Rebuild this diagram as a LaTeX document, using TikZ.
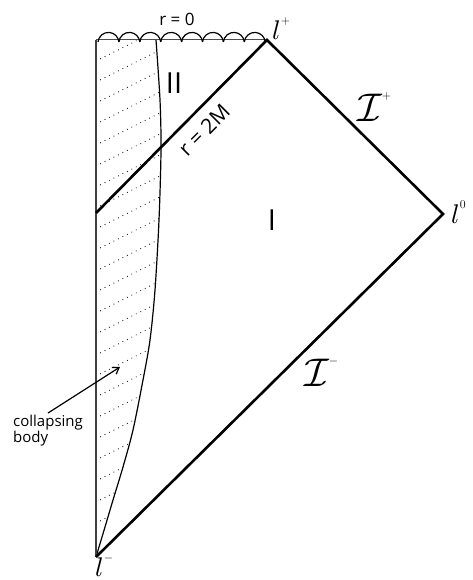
\documentclass[tikz,border=0pt]{standalone}
\usepackage{graphicx}
\usepackage{fontspec}
\setmainfont{Open Sans}
\usetikzlibrary{arrows.meta}

% corner labels i^+, i^0, i^- and scri labels
\newcommand{\ipoint}[1]{\scalebox{2.7}{$l$}\raisebox{15pt}{\fontsize{12}{12}\selectfont$#1$}}
\newcommand{\scri}[1]{\scalebox{4}{$\mathcal{I}$}\raisebox{22pt}{\fontsize{12}{12}\selectfont$#1$}}

\begin{document}
\begin{tikzpicture}[x=1pt,y=-1pt,
    nullline/.style={line width=2.6pt, line join=miter},
    centreline/.style={line width=1.6pt, black!75},
    surface/.style={line width=1.2pt},
    hatch/.style={line width=1.2pt, black!90, dash pattern=on 0pt off 5pt, line cap=round},
    pointer/.style={line width=1.2pt, -{Straight Barb[length=6pt,width=8pt]}}]
        % Define sizes
        \def\wavewidth{20.9}
        \def\waveradius{10.5}
        \def\hatchgap{21}

        \useasboundingbox (0,0) rectangle (472,580);

        % Corners of the diagram
        \coordinate (iminus) at (96,557);
        \coordinate (izero) at (443,214);
        \coordinate (iplus) at (267,40);
        \coordinate (corner) at (96,40);
        \coordinate (horizon) at (96,213);

        % Hatching inside the collapsing body
        \begin{scope}
            \clip plot[smooth] coordinates {(96,557) (105,527) (113,500) (123,467) (133,430) (143,380) (150,340) (155,290) (159,220) (161,150) (160,100) (156,40)} -- (corner) -- cycle;
            \foreach \k in {0,...,27}
                \draw[hatch] (96,40+\k*\hatchgap) -- ++(80,-40);
        \end{scope}

        % Surface of the body
        \draw[surface] plot[smooth] coordinates {(96,557) (105,527) (113,500) (123,467) (133,430) (143,380) (150,340) (155,290) (159,220) (161,150) (160,100) (156,40)};

        % Centre r = 0 of the body
        \draw[centreline] (iminus) -- (corner);

        % Singularity
        \draw[line width=1pt, black!70] (corner) -- (iplus);
        \foreach \k in {0,...,7}
            \draw[line width=1.2pt] (98+\k*\wavewidth,42) arc[start angle=185, end angle=355, radius=\waveradius];

        % Horizon and null infinity
        \draw[nullline] (horizon) -- (iplus) -- (izero) -- (iminus);

        % Labels
        \node[font=\fontsize{17}{17}\selectfont] (rzero) at (177,19) {r = 0};
        \node[font=\fontsize{29}{29}\selectfont] (regtwo) at (174,83) {II};
        \node[font=\fontsize{29}{29}\selectfont] (regone) at (272,220) {I};
        \node[font=\fontsize{21}{21}\selectfont, rotate=45] (rhorizon) at (204,130) {r = 2M};
        \node[anchor=base west, inner sep=0] (lplus) at (272,40) {\ipoint{+}};
        \node[anchor=base west, inner sep=0] (lzero) at (451,223) {\ipoint{0}};
        \node[anchor=base west, inner sep=0] (lminus) at (95,576) {\ipoint{-}};
        \node[anchor=base west, inner sep=0] (scriplus) at (357,122) {\scri{+}};
        \node[anchor=base west, inner sep=0] (scriminus) at (304,386) {\scri{-}};

        % Collapsing body
        \node[align=left, anchor=north west, inner sep=2pt, font=\fontsize{15}{16}\selectfont] (bodylabel) at (11,413) {collapsing\\body};
        \coordinate (bodytip) at (120,367);
        \draw[pointer] (bodylabel.north) -- (bodytip);
\end{tikzpicture}
\end{document}
